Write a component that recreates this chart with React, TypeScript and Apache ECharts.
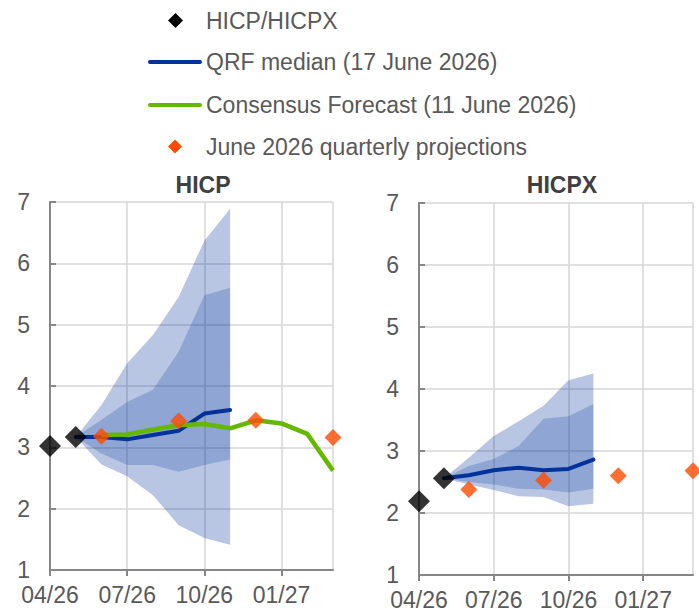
import React, { useEffect, useRef } from "react";
import * as echarts from "echarts";

const months = ["04/26", "05/26", "06/26", "07/26", "08/26", "09/26", "10/26", "11/26", "12/26", "01/27", "02/27", "03/27"];
const yTicks = [1, 2, 3, 4, 5, 6, 7];

// HICP panel
const hicpActual = [3.02, 3.17, null, null, null, null, null, null, null, null, null, null];
const hicpQrf = [null, 3.17, 3.17, 3.13, 3.2, 3.27, 3.55, 3.61, null, null, null, null];
const hicpOuterLo = [null, 3.17, 2.72, 2.53, 2.22, 1.73, 1.52, 1.41, null, null, null, null];
const hicpOuterHi = [null, 3.17, 3.69, 4.37, 4.83, 5.45, 6.37, 6.89, null, null, null, null];
const hicpInnerLo = [null, 3.17, 2.9, 2.71, 2.71, 2.6, 2.71, 2.8, null, null, null, null];
const hicpInnerHi = [null, 3.17, 3.45, 3.74, 3.94, 4.56, 5.48, 5.6, null, null, null, null];
const hicpConsensus = [null, null, 3.2, 3.21, 3.29, 3.36, 3.38, 3.31, 3.44, 3.39, 3.22, 2.62];
const hicpProjections = [null, null, 3.18, null, null, 3.43, null, null, 3.44, null, null, 3.16];

// HICPX panel
const hicpxActual = [2.19, 2.56, null, null, null, null, null, null, null, null, null, null];
const hicpxQrf = [null, 2.56, 2.61, 2.69, 2.73, 2.69, 2.71, 2.86, null, null, null, null];
const hicpxOuterLo = [null, 2.56, 2.46, 2.37, 2.27, 2.26, 2.11, 2.15, null, null, null, null];
const hicpxOuterHi = [null, 2.56, 2.89, 3.24, 3.48, 3.73, 4.14, 4.25, null, null, null, null];
const hicpxInnerLo = [null, 2.56, 2.5, 2.46, 2.39, 2.38, 2.33, 2.39, null, null, null, null];
const hicpxInnerHi = [null, 2.56, 2.76, 2.87, 3.08, 3.52, 3.56, 3.76, null, null, null, null];
const hicpxProjections = [null, null, 2.38, null, null, 2.53, null, null, 2.6, null, null, 2.68];

const legendLabels = ["HICP/HICPX", "QRF median (17 June 2026)", "Consensus Forecast (11 June 2026)", "June 2026 quarterly projections"];
const panelTitles = ["HICP", "HICPX"];

const FONT = '"Liberation Sans", Arial, sans-serif';
const FS = 23;
const TEXT = "#595959";
const BLUE = "#003299";
const GREEN = "#65b800";
const ORANGE = "#ff4b00";

const diff = (lo: (number | null)[], hi: (number | null)[]) =>
  lo.map((v, i) => (v == null || hi[i] == null ? null : +((hi[i] as number) - v).toFixed(4)));

function bandSeries(gi: number, lo: (number | null)[], hi: (number | null)[], name: string, color: string) {
  const common = {
    type: "line",
    xAxisIndex: gi,
    yAxisIndex: gi,
    stack: name + gi,
    symbol: "none",
    silent: true,
    z: 1,
    lineStyle: { opacity: 0, width: 0 },
  };
  return [
    { ...common, data: lo, areaStyle: { opacity: 0 } },
    { ...common, data: diff(lo, hi), areaStyle: { color, opacity: 1 } },
  ];
}

function xAxis(gi: number) {
  return {
    type: "category",
    gridIndex: gi,
    data: months,
    boundaryGap: false,
    axisLine: { show: true, onZero: false, lineStyle: { color: "#868686", width: 2 } },
    axisTick: { show: true, length: 6, interval: (i: number) => i % 3 === 0, lineStyle: { color: "#868686", width: 2 } },
    axisLabel: { interval: (i: number) => i % 3 === 0, fontSize: FS, color: TEXT, fontFamily: FONT, margin: 13 },
    splitLine: { show: true, interval: (i: number) => i % 3 === 0 || i === months.length - 1, lineStyle: { color: "#d6d6d6", width: 1.5 } },
  };
}

function yAxis(gi: number) {
  return {
    type: "value",
    gridIndex: gi,
    min: yTicks[0],
    max: yTicks[yTicks.length - 1],
    interval: 1,
    axisLine: { show: true, lineStyle: { color: "#868686", width: 2 } },
    axisTick: { show: true, inside: true, length: 6, lineStyle: { color: "#868686", width: 2 } },
    axisLabel: { fontSize: FS, color: TEXT, fontFamily: FONT, margin: 20 },
    splitLine: { show: true, lineStyle: { color: "#d6d6d6", width: 1.5 } },
  };
}

function panelSeries(gi: number, actual: any[], qrf: any[], oLo: any[], oHi: any[], iLo: any[], iHi: any[], proj: any[], consensus?: any[]) {
  const s: any[] = [
    ...bandSeries(gi, oLo, oHi, "outer", "rgba(0,50,153,0.28)"),
    ...bandSeries(gi, iLo, iHi, "inner", "rgba(0,50,153,0.22)"),
    {
      type: "line", name: legendLabels[1], xAxisIndex: gi, yAxisIndex: gi, data: qrf, symbol: "none", z: 3,
      lineStyle: { color: BLUE, width: 4, cap: "round" },
    },
  ];
  if (consensus) {
    s.push({
      type: "line", name: legendLabels[2], xAxisIndex: gi, yAxisIndex: gi, data: consensus, symbol: "none", z: 3,
      lineStyle: { color: GREEN, width: 4.5 },
    });
  }
  s.push({
    type: "scatter", name: legendLabels[3], xAxisIndex: gi, yAxisIndex: gi, data: proj, symbol: "diamond", symbolSize: 17, z: 5, clip: false,
    itemStyle: { color: ORANGE },
  });
  s.push({
    type: "scatter", name: legendLabels[0], xAxisIndex: gi, yAxisIndex: gi, data: actual, symbol: "diamond", symbolSize: 22, z: 6, clip: false,
    itemStyle: { color: "#000" },
  });
  return s;
}

function diamond(cx: number, cy: number, r: number, fill: string) {
  return {
    type: "polygon",
    shape: { points: [[cx, cy - r], [cx + r, cy], [cx, cy + r], [cx - r, cy]] },
    style: { fill },
  };
}

function legendText(y: number, text: string) {
  return {
    type: "text",
    x: 206,
    y,
    style: { text, fontSize: FS, fontFamily: FONT, fill: TEXT, textAlign: "left", textVerticalAlign: "middle" },
  };
}

export default function App() {
  const ref = useRef<HTMLDivElement>(null);
  useEffect(() => {
    document.body.style.margin = "0";
    if (!ref.current) return;
    const chart = echarts.init(ref.current, null, { renderer: "svg" });
    chart.setOption({
      animation: false,
      backgroundColor: "#fff",
      grid: [
        { left: 50, top: 202, width: 283, height: 368 },
        { left: 419, top: 203, width: 274, height: 373 },
      ],
      xAxis: [xAxis(0), xAxis(1)],
      yAxis: [yAxis(0), yAxis(1)],
      series: [
        ...panelSeries(0, hicpActual, hicpQrf, hicpOuterLo, hicpOuterHi, hicpInnerLo, hicpInnerHi, hicpProjections, hicpConsensus),
        ...panelSeries(1, hicpxActual, hicpxQrf, hicpxOuterLo, hicpxOuterHi, hicpxInnerLo, hicpxInnerHi, hicpxProjections),
      ],
      graphic: [
        diamond(175.5, 20.5, 7.5, "#000"),
        legendText(20.5, legendLabels[0]),
        { type: "line", shape: { x1: 150, y1: 62, x2: 200, y2: 62 }, style: { stroke: BLUE, lineWidth: 4, lineCap: "round" } },
        legendText(62, legendLabels[1]),
        { type: "line", shape: { x1: 150, y1: 105, x2: 200, y2: 105 }, style: { stroke: GREEN, lineWidth: 4, lineCap: "round" } },
        legendText(105, legendLabels[2]),
        diamond(175, 146.5, 7, ORANGE),
        legendText(146.5, legendLabels[3]),
        {
          type: "text", x: 203, y: 185,
          style: { text: panelTitles[0], fontSize: FS, fontWeight: "bold", fontFamily: FONT, fill: "#404040", textAlign: "center", textVerticalAlign: "middle" },
        },
        {
          type: "text", x: 562, y: 185,
          style: { text: panelTitles[1], fontSize: FS, fontWeight: "bold", fontFamily: FONT, fill: "#404040", textAlign: "center", textVerticalAlign: "middle" },
        },
      ],
    });
    return () => chart.dispose();
  }, []);
  return <div ref={ref} style={{ width: 699, height: 611 }} />;
}
